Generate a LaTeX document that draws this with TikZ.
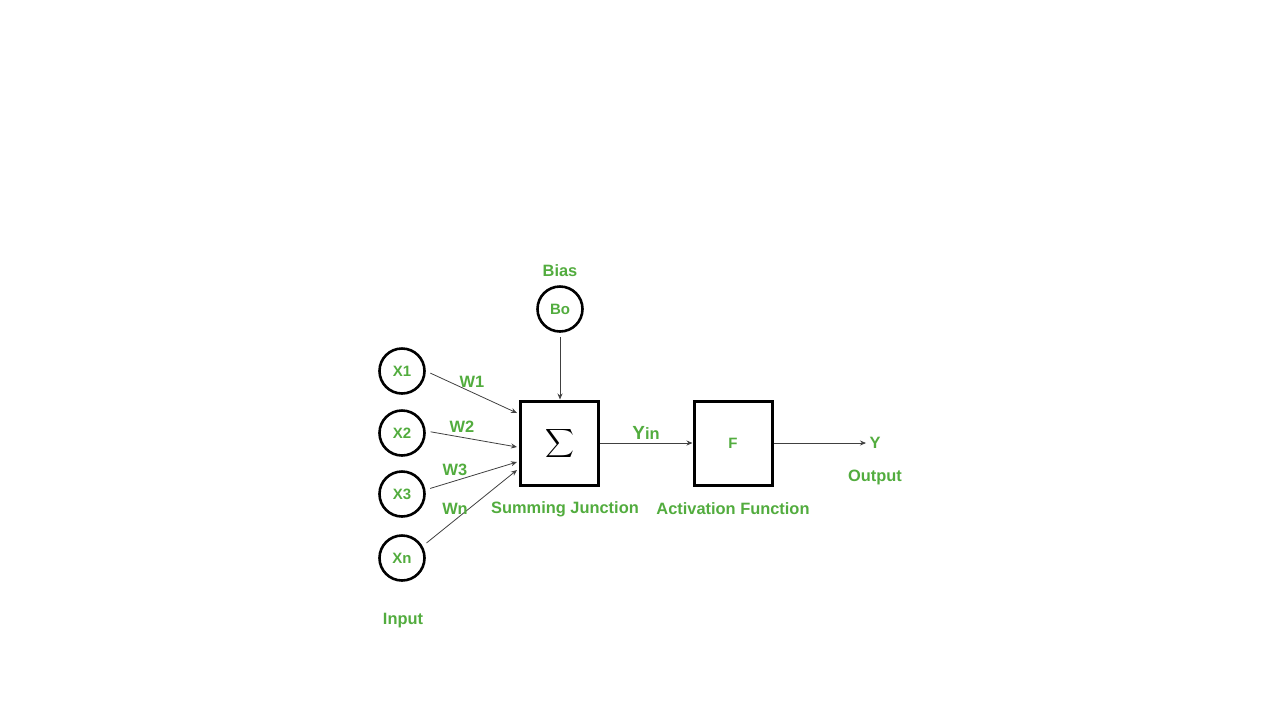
\documentclass[tikz,border=0pt]{standalone}
\usepackage{fontspec}
\setmainfont{Liberation Sans}
\usetikzlibrary{arrows.meta}
\definecolor{lbl}{RGB}{82,172,62}
\begin{document}
\begin{tikzpicture}[x=0.5pt,y=-0.5pt,
  neuron/.style={circle,draw=black,line width=1.3pt,minimum size=22.5pt,inner sep=0pt,text=lbl,font=\bfseries\fontsize{7.5}{8}\selectfont},
  block/.style={draw=black,line width=1.5pt,minimum width=39pt,minimum height=42pt,inner sep=0pt},
  lab/.style={text=lbl,font=\bfseries\fontsize{8.2}{9}\selectfont,inner sep=0pt},
  conn/.style={draw=black!75,line width=0.4pt,-{Stealth[length=3pt,width=2.5pt]}}]
\useasboundingbox (0,0) rectangle (1280,720);
\node[neuron] (x1) at (402,371) {X1};
\node[neuron] (x2) at (402,433) {X2};
\node[neuron] (x3) at (402,494) {X3};
\node[neuron] (xn) at (402,558) {Xn};
\node[neuron] (bo) at (560,309) {Bo};
\node[block] (sum) at (559.5,443) {\fontsize{11.5}{12}\selectfont$\displaystyle\sum$};
\node[block,text=lbl,font=\bfseries\fontsize{7.5}{8}\selectfont] (f) at (733,443) {F};
\coordinate (s1) at (517,413);
\coordinate (s2) at (517,447);
\coordinate (s3) at (517,462);
\coordinate (s4) at (517,470);
\coordinate (yout) at (866,443);
\draw[conn,shorten <=2.5pt] (x1.east) -- (s1);
\draw[conn,shorten <=2.5pt] (x2.5) -- (s2);
\draw[conn,shorten <=2.5pt] (x3.10) -- (s3);
\draw[conn,shorten <=2.5pt] (xn.30) -- (s4);
\draw[conn,shorten <=2pt] (bo.south) -- (bo.south |- sum.north);
\draw[conn] (sum.east) -- (f.west);
\draw[conn] (f.east) -- (yout);
\node[lab] (bias) at (560,271) {Bias};
\node[lab] (w1) at (472,382) {W1};
\node[lab] (w2) at (462,427) {W2};
\node[lab] (w3) at (455,470) {W3};
\node[lab] (wn) at (455,509) {Wn};
\node[lab] (yin) at (646,433) {{\fontsize{9.5}{9}\selectfont Y}in};
\node[lab] (y) at (875,443) {Y};
\node[lab] (output) at (875,477) {Output};
\node[lab] (sj) at (565,509) {Summing Junction};
\node[lab] (af) at (733,509) {Activation Function};
\node[lab] (input) at (403,621) {Input};
\end{tikzpicture}
\end{document}
